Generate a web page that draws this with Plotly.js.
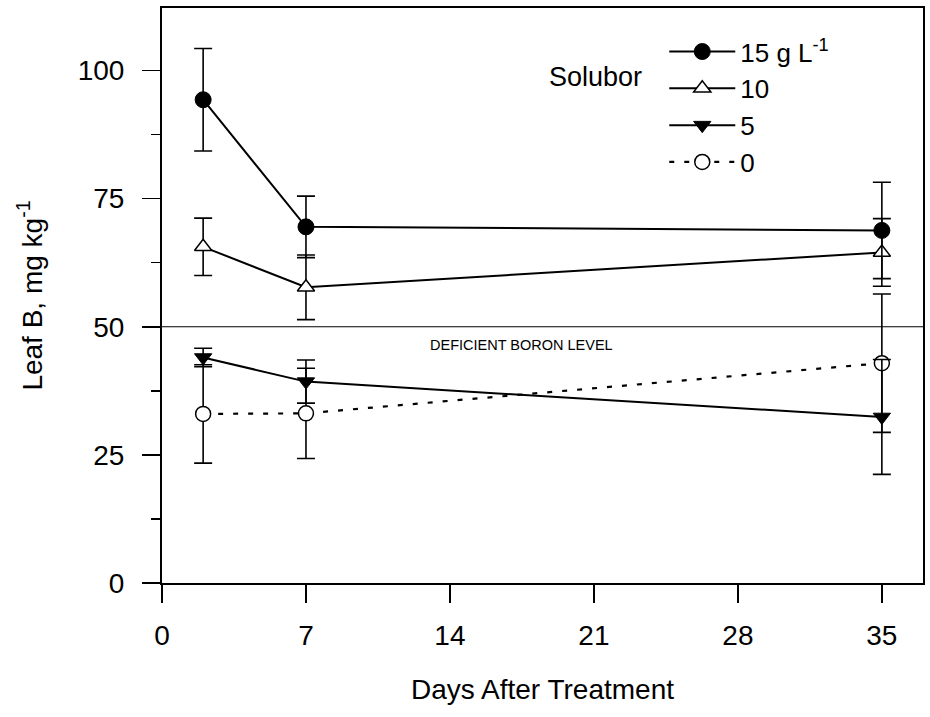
<!DOCTYPE html>
<html>
<head>
<meta charset="utf-8">
<script src="https://cdn.plot.ly/plotly-3.0.1.min.js"></script>
<style>html,body{margin:0;padding:0;background:#fff;}#chart{width:930px;height:717px;}</style>
</head>
<body>
<div id="chart"></div>
<script>
// ---- data ----
const days = [2, 7, 35];
const rate15 = [94.3, 69.5, 68.8];
const err15  = [10.0, 6.0, 9.4];
const rate10 = [65.6, 57.7, 64.5];
const err10  = [5.6, 6.3, 6.6];
const rate5  = [44.0, 39.3, 32.4];
const err5   = [1.8, 4.2, 11.2];
const rate0  = [33.0, 33.1, 42.9];
const err0   = [9.6, 8.8, 13.5];
const seriesNames = ["15 g L<sup>-1</sup>", "10", "5", "0"];
const xTicks = [0, 7, 14, 21, 28, 35];
const yTicks = [0, 25, 50, 75, 100];
const deficientLevel = 50;
const deficientLabel = "DEFICIENT BORON LEVEL";
const legendTitle = "Solubor";

const FONT = "Liberation Sans, Arial, sans-serif";
function eb(arr){ return {type:'data', array:arr, visible:true, color:'#000', thickness:1.6, width:9}; }

const traces = [
  {x: days, y: rate0, name: seriesNames[3], mode:'lines+markers', error_y: eb(err0),
   line:{color:'#000', width:2.2, dash:'5px,10px'},
   marker:{symbol:'circle', size:15, color:'#fff', line:{color:'#000', width:1.5}}},
  {x: days, y: rate5, name: seriesNames[2], mode:'lines+markers', error_y: eb(err5),
   line:{color:'#000', width:2},
   marker:{symbol:'triangle-down', size:15, color:'#000', line:{color:'#000', width:1}}},
  {x: days, y: rate10, name: seriesNames[1], mode:'lines+markers', error_y: eb(err10),
   line:{color:'#000', width:2},
   marker:{symbol:'triangle-up', size:15, color:'#fff', line:{color:'#000', width:1.5}}},
  {x: days, y: rate15, name: seriesNames[0], mode:'lines+markers', error_y: eb(err15),
   line:{color:'#000', width:2},
   marker:{symbol:'circle', size:16, color:'#000', line:{color:'#000', width:1}}}
];

const layout = {
  width: 930, height: 717,
  margin: {l:162, r:7, t:8, b:134},
  paper_bgcolor:'#fff', plot_bgcolor:'#fff',
  font: {family: FONT, color:'#000', size:28},
  showlegend: true,
  legend: {traceorder:'reversed', x:0.66, y:0.965, xanchor:'left', yanchor:'top',
           bgcolor:'rgba(0,0,0,0)', font:{size:26, family:FONT}, itemwidth:66, tracegroupgap:0},
  xaxis: {range:[0,37], tickvals:xTicks, ticks:'outside', ticklen:18, tickwidth:1.5, tickcolor:'#000',
          ticklabelstandoff:8,
          showline:true, linewidth:2, linecolor:'#000', mirror:true, showgrid:false, zeroline:false,
          tickfont:{size:28}, title:{text:'Days After Treatment', font:{size:28}, standoff:30}},
  yaxis: {range:[0,112.2], tickvals:yTicks, ticks:'outside', ticklen:18, tickwidth:1.5, tickcolor:'#000',
          ticklabelstandoff:12,
          minor:{dtick:12.5, ticks:'outside', ticklen:9, tickwidth:1.5, tickcolor:'#000'},
          showline:true, linewidth:2, linecolor:'#000', mirror:true, showgrid:false, zeroline:false,
          tickfont:{size:28}, title:{text:'Leaf B, mg kg<sup>-1</sup>', font:{size:28}, standoff:27}},
  shapes: [{type:'line', xref:'paper', x0:0, x1:1, yref:'y', y0:deficientLevel, y1:deficientLevel,
            line:{color:'#000', width:1.2}}],
  annotations: [
    {text: deficientLabel, xref:'x', yref:'y', x:17.5, y:deficientLevel, yshift:-18, showarrow:false,
     font:{size:14.5, family:FONT}},
    {text: legendTitle, xref:'paper', yref:'paper', x:0.569, y:0.88, yanchor:'middle', xanchor:'center',
     showarrow:false, font:{size:27, family:FONT}}
  ]
};

Plotly.newPlot('chart', traces, layout, {displayModeBar:false, staticPlot:true});
</script>
</body>
</html>
